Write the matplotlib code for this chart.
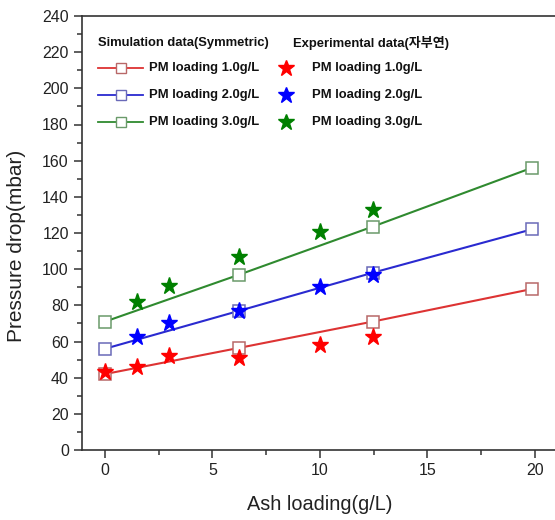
import matplotlib
matplotlib.use("Agg")
import matplotlib.pyplot as plt
from matplotlib.lines import Line2D
from matplotlib.ticker import MultipleLocator

plt.rcParams['font.family'] = ['Liberation Sans', 'Noto Sans CJK KR', 'DejaVu Sans']

# Simulation results (symmetric model)
sim_x = [0, 6.25, 12.45, 19.85]
sim_pm1 = [42, 56.5, 71, 89]
sim_pm2 = [56, 77, 98, 122]
sim_pm3 = [71, 97, 123.5, 156]

# Experimental measurements
exp_x = [0, 1.5, 3.0, 6.25, 10.0, 12.45]
exp_pm1 = [43, 46, 52, 51, 58, 62.5]
exp_pm2 = [None, 62.5, 70, 77, 90, 96.5]
exp_pm3 = [None, 82, 90.5, 106.5, 120.5, 132.5]

series_labels = ["PM loading 1.0g/L", "PM loading 2.0g/L", "PM loading 3.0g/L"]
sim_header = "Simulation data(Symmetric)"
exp_header = "Experimental data(자부연)"

line_colors = ["#dd3333", "#2a2ad0", "#2f8a2f"]
square_colors = ["#b86868", "#6a6ab8", "#6a9a6a"]
star_colors = ["#ff0000", "#0000ff", "#008000"]

W, H = 555, 520
fig = plt.figure(figsize=(W / 100, H / 100), dpi=100)
x_left, x_right = 82, 562
y_bottom, y_top = 450, 16
ax_w, ax_h = x_right - x_left, y_bottom - y_top
ax = fig.add_axes([x_left / W, (H - y_bottom) / H, ax_w / W, ax_h / H])
ax.set_xlim(-1.07, 21.26)
ax.set_ylim(0, 240)

sims = [sim_pm1, sim_pm2, sim_pm3]
exps = [exp_pm1, exp_pm2, exp_pm3]
for i in range(3):
    ax.plot(sim_x, sims[i], color=line_colors[i], lw=1.5, zorder=2)
    ax.plot(sim_x, sims[i], ls='none', marker='s', ms=8, mfc='white',
            mec=square_colors[i], mew=1.1, zorder=3)
for i in range(3):
    xs = [x for x, y in zip(exp_x, exps[i]) if y is not None]
    ys = [y for y in exps[i] if y is not None]
    ax.plot(xs, ys, ls='none', marker='*', ms=12.5, color=star_colors[i],
            mec=star_colors[i], zorder=4)

ax.xaxis.set_major_locator(MultipleLocator(5))
ax.xaxis.set_minor_locator(MultipleLocator(2.5))
ax.yaxis.set_major_locator(MultipleLocator(20))
ax.yaxis.set_minor_locator(MultipleLocator(10))
ax.tick_params(which='both', direction='out', top=False, right=False,
               colors='#333333', labelcolor='#222222', labelsize=11.5)
ax.tick_params(which='major', length=6, width=1.1)
ax.tick_params(which='minor', length=3.5, width=1.1)
for s in ax.spines.values():
    s.set_color('#333333')
    s.set_linewidth(1.2)

ax.set_xlabel("Ash loading(g/L)", fontsize=14.3, color='#222222', va='center')
ax.xaxis.set_label_coords(((105 + 10 * 21.5) - x_left) / ax_w, (y_bottom - 505) / ax_h)
ax.set_ylabel("Pressure drop(mbar)", fontsize=15, color='#222222', va='center')
ax.yaxis.set_label_coords((17 - x_left) / ax_w, (y_bottom - 246) / ax_h)

# Legend block, laid out in pixel coordinates
def fx(px):
    return px / W

def fy(py):
    return (H - py) / H

tkw = dict(fontsize=9.4, fontweight='bold', color='#111111', va='center', ha='left')
fig.text(fx(98), fy(43), sim_header, **tkw)
fig.text(fx(293), fy(43), exp_header, **tkw)
row_y = [68, 95, 122]
for i in range(3):
    yy = fy(row_y[i])
    fig.add_artist(Line2D([fx(98), fx(143)], [yy, yy], color=line_colors[i], lw=1.3))
    fig.add_artist(Line2D([fx(121)], [yy], ls='none', marker='s', ms=7, mfc='white',
                          mec=square_colors[i], mew=1.0))
    fig.text(fx(149), yy, series_labels[i], **tkw)
    fig.add_artist(Line2D([fx(286)], [yy], ls='none', marker='*', ms=12,
                          color=star_colors[i]))
    fig.text(fx(312), yy, series_labels[i], **tkw)

fig.savefig("out.png", dpi=100)
